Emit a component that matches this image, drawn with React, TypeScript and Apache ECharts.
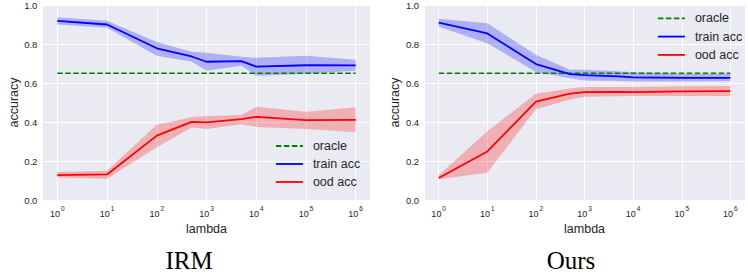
import React, { useEffect, useRef } from "react";
import * as echarts from "echarts";

// ---- data ----
const lambdas = [1, 10, 100, 500, 1000, 5000, 10000, 100000, 1000000];
const oracleValue = 0.65;

const irmTrainMean = [0.919, 0.9, 0.778, 0.736, 0.709, 0.712, 0.684, 0.691, 0.69];
const irmTrainLo = [0.9, 0.883, 0.74, 0.71, 0.663, 0.688, 0.637, 0.647, 0.663];
const irmTrainHi = [0.937, 0.919, 0.81, 0.76, 0.755, 0.734, 0.729, 0.74, 0.719];
const irmOodMean = [0.128, 0.131, 0.33, 0.401, 0.398, 0.415, 0.426, 0.41, 0.411];
const irmOodLo = [0.115, 0.109, 0.27, 0.372, 0.364, 0.388, 0.375, 0.364, 0.347];
const irmOodHi = [0.143, 0.15, 0.386, 0.424, 0.431, 0.436, 0.478, 0.452, 0.476];

const oursTrainMean = [0.909, 0.854, 0.697, 0.646, 0.64, 0.634, 0.629, 0.626, 0.626];
const oursTrainLo = [0.888, 0.804, 0.657, 0.625, 0.613, 0.61, 0.608, 0.608, 0.609];
const oursTrainHi = [0.93, 0.906, 0.745, 0.668, 0.668, 0.66, 0.655, 0.646, 0.646];
const oursOodMean = [0.113, 0.249, 0.504, 0.545, 0.553, 0.554, 0.553, 0.557, 0.558];
const oursOodLo = [0.107, 0.14, 0.465, 0.516, 0.53, 0.532, 0.533, 0.533, 0.533];
const oursOodHi = [0.127, 0.352, 0.545, 0.572, 0.579, 0.58, 0.58, 0.583, 0.584];

const panelTitles = ["IRM", "Ours"];
const legendNames = ["oracle", "train acc", "ood acc"];
const yTicks = [0, 0.2, 0.4, 0.6, 0.8, 1.0];

const FONT = "'Liberation Sans', Arial, sans-serif";
const TXT = "#262626";
const BLUE = "#0000ff";
const RED = "#ff0000";
const GREEN = "#008000";

const pairs = (ys: number[]) => lambdas.map((x, i) => [x, ys[i]]);

function bandSeries(gi: number, name: string, lo: number[], hi: number[], fill: string) {
  return {
    type: "custom",
    name,
    xAxisIndex: gi,
    yAxisIndex: gi,
    silent: true,
    data: [[lambdas[0], lo[0]]],
    renderItem: (_params: any, api: any) => {
      const upper = lambdas.map((x, i) => api.coord([x, hi[i]]));
      const lower = lambdas.map((x, i) => api.coord([x, lo[i]])).reverse();
      return {
        type: "polygon",
        shape: { points: upper.concat(lower) },
        style: { fill, stroke: "none" },
      };
    },
  };
}

function panelSeries(
  gi: number,
  trainMean: number[],
  trainLo: number[],
  trainHi: number[],
  oodMean: number[],
  oodLo: number[],
  oodHi: number[]
) {
  const base = { xAxisIndex: gi, yAxisIndex: gi, symbol: "none", silent: true };
  return [
    bandSeries(gi, `trainBand${gi}`, trainLo, trainHi, "rgba(0,0,255,0.25)"),
    bandSeries(gi, `oodBand${gi}`, oodLo, oodHi, "rgba(255,0,0,0.25)"),
    {
      ...base, type: "line", name: legendNames[0],
      data: [[lambdas[0], oracleValue], [lambdas[lambdas.length - 1], oracleValue]],
      lineStyle: { color: GREEN, width: 1.6, type: [5.5, 2.5] },
      itemStyle: { color: GREEN },
    },
    {
      ...base, type: "line", name: legendNames[1], data: pairs(trainMean),
      lineStyle: { color: BLUE, width: 1.8 }, itemStyle: { color: BLUE },
    },
    {
      ...base, type: "line", name: legendNames[2], data: pairs(oodMean),
      lineStyle: { color: RED, width: 1.8 }, itemStyle: { color: RED },
    },
  ];
}

function xAxisFor(gi: number) {
  return {
    type: "log",
    logBase: 10,
    gridIndex: gi,
    min: Math.pow(10, -0.3),
    max: Math.pow(10, 6.3),
    name: "lambda",
    nameLocation: "middle",
    nameGap: 21,
    nameTextStyle: { fontSize: 12.5, color: TXT, fontFamily: FONT },
    axisLine: { show: false },
    axisTick: { show: false },
    splitLine: { show: true, lineStyle: { color: "#ffffff", width: 1 } },
    axisLabel: {
      margin: 5,
      formatter: (v: number) => {
        const e = Math.log10(v);
        const r = Math.round(e);
        if (Math.abs(e - r) > 1e-6) return "";
        return `{b|10}{s|${r}}`;
      },
      rich: {
        b: { fontSize: 9, lineHeight: 13, verticalAlign: "bottom", color: TXT, fontFamily: FONT },
        s: { fontSize: 6.5, lineHeight: 7, verticalAlign: "top", color: TXT, fontFamily: FONT, padding: [0, 0, 0, 1] },
      },
    },
  };
}

function yAxisFor(gi: number) {
  return {
    type: "value",
    gridIndex: gi,
    min: yTicks[0],
    max: yTicks[yTicks.length - 1],
    interval: 0.2,
    name: "accuracy",
    nameLocation: "middle",
    nameRotate: 90,
    nameGap: 22,
    nameTextStyle: { fontSize: 12.5, color: TXT, fontFamily: FONT },
    axisLine: { show: false },
    axisTick: { show: false },
    splitLine: { show: true, lineStyle: { color: "#ffffff", width: 1 } },
    axisLabel: {
      margin: 5,
      fontSize: 9.5,
      color: TXT,
      fontFamily: FONT,
      formatter: (v: number) => v.toFixed(1),
    },
  };
}

function legendFor(left: number, top: number, gap: number) {
  return {
    orient: "vertical",
    left,
    top,
    padding: 0,
    itemWidth: 27,
    itemHeight: 14,
    itemGap: gap,
    selectedMode: false,
    data: legendNames,
    itemStyle: { opacity: 0 },
    lineStyle: { width: 1.8 },
    textStyle: { fontSize: 12.5, color: TXT, fontFamily: FONT, lineHeight: 14, padding: [0, 0, 0, 5] },
  };
}

export default function App() {
  const ref = useRef<HTMLDivElement>(null);
  useEffect(() => {
    document.body.style.margin = "0";
    const chart = echarts.init(ref.current!, null, { renderer: "svg" });
    chart.setOption({
      animation: false,
      backgroundColor: "#ffffff",
      grid: [
        { left: 42.4, top: 2.5, width: 328.2, height: 197.5, show: true, backgroundColor: "#EAEAF2", borderWidth: 0 },
        { left: 424.1, top: 2.5, width: 328.5, height: 197.5, show: true, backgroundColor: "#EAEAF2", borderWidth: 0 },
      ],
      xAxis: [xAxisFor(0), xAxisFor(1)],
      yAxis: [yAxisFor(0), yAxisFor(1)],
      legend: [legendFor(275, 139, 4), legendFor(657, 11.3, 4.3)],
      series: [
        ...panelSeries(0, irmTrainMean, irmTrainLo, irmTrainHi, irmOodMean, irmOodLo, irmOodHi),
        ...panelSeries(1, oursTrainMean, oursTrainLo, oursTrainHi, oursOodMean, oursOodLo, oursOodHi),
      ],
      graphic: [
        {
          type: "text", x: 189, y: 260, silent: true,
          style: { text: panelTitles[0], fill: "#000", font: "25px 'Liberation Serif', 'Times New Roman', serif", align: "center", verticalAlign: "middle" },
        },
        {
          type: "text", x: 571, y: 260, silent: true,
          style: { text: panelTitles[1], fill: "#000", font: "25px 'Liberation Serif', 'Times New Roman', serif", align: "center", verticalAlign: "middle" },
        },
      ],
    });
    return () => chart.dispose();
  }, []);
  return (
    <div
      ref={ref}
      style={{ position: "absolute", left: 0, top: 0, width: 748, height: 279 }}
    />
  );
}
